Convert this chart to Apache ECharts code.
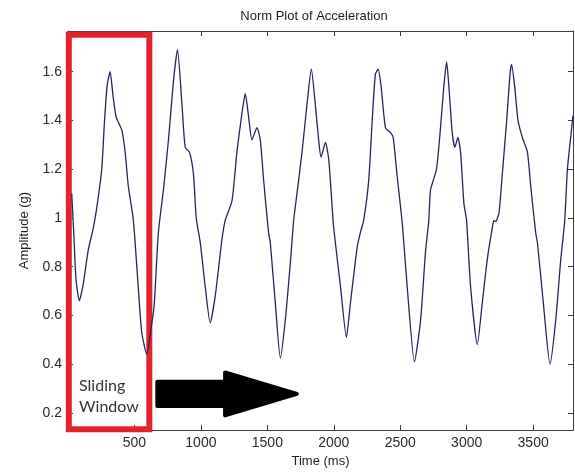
<!DOCTYPE html>
<html>
<head>
<meta charset="utf-8">
<script src="https://cdn.jsdelivr.net/npm/echarts@6/dist/echarts.min.js"></script>
<style>
html,body{margin:0;padding:0;background:#fff;}
#chart{width:575px;height:474px;}
</style>
</head>
<body>
<div id="chart"></div>
<script>
const timeMs = [28,45,60,85,115,153,191,221,254,274,294,317,339,362,405,430,454,492,528,555,593,618,648,680,718,756,794,824,857,882,914,944,965,995,1032,1070,1108,1158,1183,1234,1271,1309,1334,1359,1384,1422,1447,1472,1509,1522,1560,1598,1635,1673,1698,1723,1761,1799,1831,1862,1886,1904,1937,1962,1987,1999,2050,2095,2125,2176,2200,2225,2263,2289,2313,2334,2356,2389,2427,2447,2477,2515,2552,2607,2653,2690,2715,2728,2773,2803,2828,2849,2866,2891,2911,2934,2954,2979,2999,3029,3080,3117,3155,3193,3205,3218,3243,3268,3301,3326,3338,3361,3386,3419,3457,3482,3519,3532,3577,3627,3670,3708,3738,3758,3796,3800];
const amplitude = [1.10,0.92,0.75,0.66,0.73,0.87,0.96,1.06,1.20,1.39,1.54,1.60,1.50,1.415,1.36,1.27,1.13,0.99,0.72,0.53,0.44,0.52,0.64,0.94,1.115,1.32,1.565,1.69,1.47,1.29,1.27,1.18,1.00,0.90,0.72,0.57,0.68,0.91,0.99,1.07,1.27,1.43,1.51,1.415,1.32,1.37,1.32,1.155,0.94,0.90,0.65,0.425,0.58,0.815,0.99,1.10,1.27,1.47,1.61,1.46,1.32,1.25,1.31,1.24,1.05,0.96,0.72,0.51,0.65,0.88,0.94,0.99,1.155,1.40,1.59,1.61,1.54,1.37,1.35,1.33,1.17,0.98,0.72,0.41,0.58,0.86,0.99,1.115,1.20,1.37,1.54,1.64,1.54,1.35,1.29,1.33,1.27,1.06,0.99,0.72,0.48,0.65,0.83,0.96,0.99,0.985,1.02,1.18,1.40,1.59,1.63,1.54,1.40,1.33,1.27,1.13,0.94,0.90,0.65,0.40,0.58,0.83,0.99,1.20,1.40,1.42];
const xTicks = [500,1000,1500,2000,2500,3000,3500];
const yTicks = [0.2,0.4,0.6,0.8,1,1.2,1.4,1.6];
const windowRange = {x:[6,612], y:[0.133,1.752]};
const titleText = 'Norm Plot of Acceleration';
const xName = 'Time (ms)';
const yName = 'Amplitude (g)';
const windowLabel = 'Sliding\nWindow';

const chart = echarts.init(document.getElementById('chart'), null, {renderer:'canvas'});
const font = 'Liberation Sans, Arial, sans-serif';
const axisColor = '#3c3c3c';
const labelStyle = {color:'#2a2a2a', fontFamily:font, fontSize:14};
const baseAxis = {
  axisLine:{show:true, onZero:false, lineStyle:{color:axisColor, width:1}},
  splitLine:{show:false}
};
const option = {
  animation:false,
  backgroundColor:'#ffffff',
  title:{text:titleText, left:309, top:5, textAlign:'center',
    textStyle:{fontFamily:font, fontSize:13, fontWeight:'normal', color:'#1e1e1e'}},
  grid:{left:68, right:2, top:31, bottom:44},
  xAxis:[
    Object.assign({type:'value', min:0, max:3800, position:'bottom',
      name:xName, nameLocation:'middle', nameGap:22,
      nameTextStyle:{fontFamily:font, fontSize:13, color:'#1e1e1e'},
      axisTick:{show:true, inside:true, length:5, customValues:xTicks, lineStyle:{color:axisColor}},
      axisLabel:Object.assign({show:true, margin:6, customValues:xTicks,
        formatter:v=>String(Math.round(v))}, labelStyle)}, baseAxis),
    Object.assign({type:'value', min:0, max:3800, position:'top',
      axisTick:{show:true, inside:true, length:5, customValues:xTicks, lineStyle:{color:axisColor}},
      axisLabel:{show:false}}, baseAxis)
  ],
  yAxis:[
    Object.assign({type:'value', min:0.13, max:1.767, position:'left',
      name:yName, nameLocation:'middle', nameGap:37, nameRotate:90,
      nameTextStyle:{fontFamily:font, fontSize:13, color:'#1e1e1e'},
      axisTick:{show:true, inside:true, length:5, customValues:yTicks, lineStyle:{color:axisColor}},
      axisLabel:Object.assign({show:true, margin:6, customValues:yTicks,
        formatter:v=>String(Math.round(v*10)/10)}, labelStyle)}, baseAxis),
    Object.assign({type:'value', min:0.13, max:1.767, position:'right',
      axisTick:{show:true, inside:true, length:5, customValues:yTicks, lineStyle:{color:axisColor}},
      axisLabel:{show:false}}, baseAxis)
  ],
  series:[{
    type:'line', xAxisIndex:0, yAxisIndex:0,
    data: timeMs.map((t,i)=>[t, amplitude[i]]),
    showSymbol:false, symbol:'none', clip:false, smooth:0.2,
    lineStyle:{color:'#25255e', width:1.3},
    markArea:{silent:true, itemStyle:{color:'rgba(0,0,0,0)', borderColor:'#e2222c', borderWidth:6},
      data:[[{coord:[windowRange.x[0], windowRange.y[1]]},{coord:[windowRange.x[1], windowRange.y[0]]}]]}
  }]
};
chart.setOption(option);

// arrow & label anchored in data space
const arrow = {tail:672, headStart:1182, tip:1722, shaftLo:0.228, shaftHi:0.328, headLo:0.19, headHi:0.366};
const P = (x,y)=>chart.convertToPixel({xAxisIndex:0,yAxisIndex:0},[x,y]);
const midY = (arrow.shaftLo+arrow.shaftHi)/2;
const pts = [
  P(arrow.tail, arrow.shaftHi), P(arrow.headStart, arrow.shaftHi), P(arrow.headStart, arrow.headHi),
  P(arrow.tip, midY), P(arrow.headStart, arrow.headLo), P(arrow.headStart, arrow.shaftLo), P(arrow.tail, arrow.shaftLo)
];
const lblPos = P(83, 0.355);
chart.setOption({graphic:[
  {type:'polygon', shape:{points:pts}, style:{fill:'#000', stroke:'#000', lineWidth:4, lineJoin:'round'}, z:10},
  {type:'text', x:lblPos[0], y:lblPos[1], style:{text:windowLabel, font:'16px Lato, "Open Sans", sans-serif', lineHeight:21, fill:'#333333'}, z:10}
]});
</script>
</body>
</html>
